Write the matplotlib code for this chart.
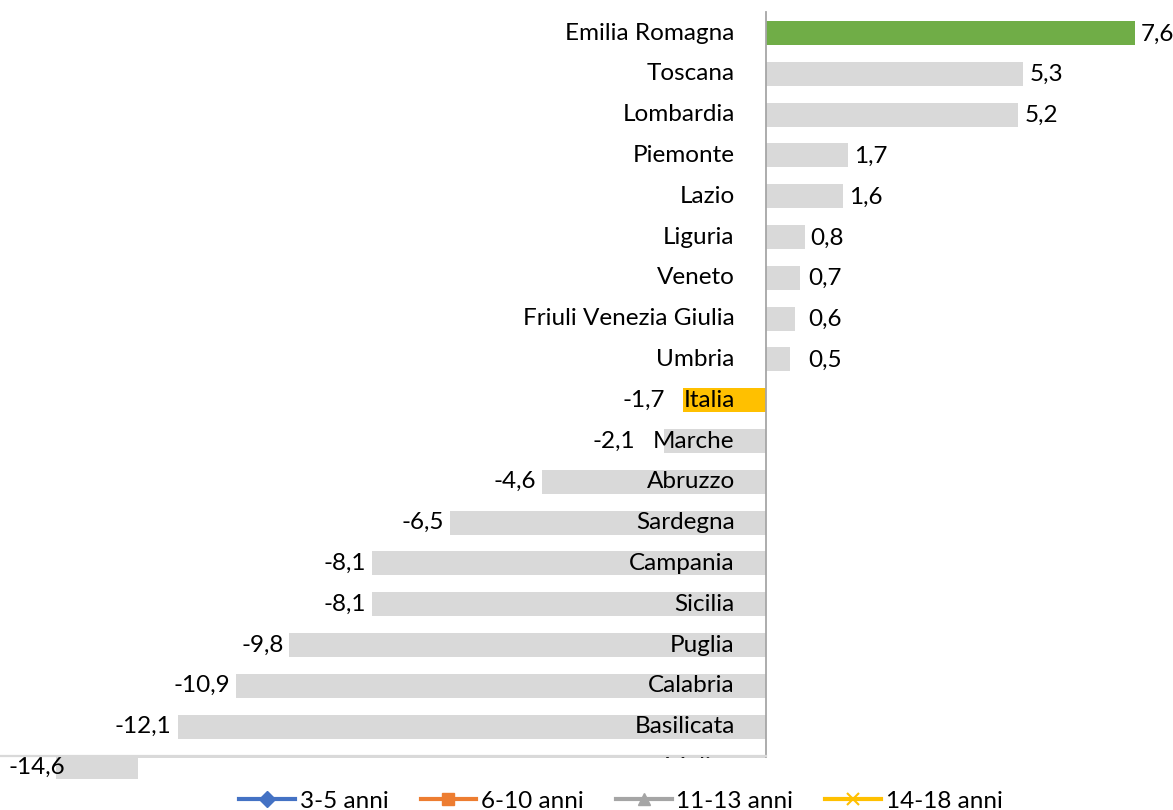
import matplotlib
matplotlib.use("Agg")
import matplotlib.pyplot as plt
from matplotlib.lines import Line2D
from matplotlib.patches import Rectangle

plt.rcParams['font.family'] = ['Lato', 'DejaVu Sans']

regioni = ['Emilia Romagna', 'Toscana', 'Lombardia', 'Piemonte', 'Lazio', 'Liguria',
           'Veneto', 'Friuli Venezia Giulia', 'Umbria', 'Italia', 'Marche', 'Abruzzo',
           'Sardegna', 'Campania', 'Sicilia', 'Puglia', 'Calabria', 'Basilicata', 'Molise']
valori = [7.6, 5.3, 5.2, 1.7, 1.6, 0.8, 0.7, 0.6, 0.5, -1.7, -2.1, -4.6,
          -6.5, -8.1, -8.1, -9.8, -10.9, -12.1, -14.6]
legenda = ['3-5 anni', '6-10 anni', '11-13 anni', '14-18 anni']

W, H = 1173, 810
fig = plt.figure(figsize=(W / 100, H / 100), dpi=100)
ax = fig.add_axes([0, 0, 1, 1])

# scala: zero a x=765.7 px, 48.6 px per unita'
x0, k = 765.7, 48.6
ax.set_xlim(-x0 / k, (W - x0) / k)
y_first, step = 33, 40.8
ax.set_ylim((H - y_first) / step, -y_first / step)

colori = []
for r in regioni:
    if r == 'Emilia Romagna':
        colori.append('#70ad47')
    elif r == 'Italia':
        colori.append('#ffc000')
    else:
        colori.append('#d9d9d9')

pos = list(range(len(regioni)))
ax.barh(pos, valori, height=0.59, color=colori, zorder=1)

fs = 17.5
renderer = fig.canvas.get_renderer()
for i, (r, v) in enumerate(zip(regioni, valori)):
    lab = ax.annotate(r, xy=(0, i), xytext=(-31, 0), textcoords='offset pixels',
                      ha='right', va='center', fontsize=fs, color='#000000', zorder=3)
    txt = ('%.1f' % v).replace('.', ',')
    bar_end = ax.transData.transform((v, i))[0]
    if v >= 0:
        # etichette piccole allineate come in Excel
        dx = max(6, x0 + 43 - bar_end)
        ax.annotate(txt, xy=(v, i), xytext=(dx, -1), textcoords='offset pixels',
                    ha='left', va='center', fontsize=fs, zorder=3)
    elif v < -14:
        ax.annotate(txt, xy=(ax.get_xlim()[0], i), xytext=(9, 0), textcoords='offset pixels',
                    ha='left', va='center', fontsize=fs, zorder=3)
    else:
        left_lab = lab.get_window_extent(renderer).x0
        dx = min(-6, left_lab - 18 - bar_end)
        ax.annotate(txt, xy=(v, i), xytext=(dx, 0), textcoords='offset pixels',
                    ha='right', va='center', fontsize=fs, zorder=3)

for s in ['top', 'right', 'bottom']:
    ax.spines[s].set_visible(False)
ax.spines['left'].set_position(('data', 0))
ax.spines['left'].set_color('#a6a6a6')
ax.spines['left'].set_linewidth(1.3)
ax.spines['left'].set_bounds((12 - y_first) / step, (757 - y_first) / step)
ax.set_xticks([])
ax.set_yticks([])
ax.patch.set_visible(False)

# bordo inferiore dell'area e riquadro bianco della legenda
fig.add_artist(Line2D([0, x0 / W], [1 - 756 / H, 1 - 756 / H], color='#d9d9d9', lw=1.6, zorder=2))
fig.add_artist(Rectangle((138 / W, 0), 1 - 138 / W - 0.05, (H - 758) / H,
                         facecolor='white', edgecolor='none', zorder=2))

handles = [
    Line2D([], [], color='#4472c4', lw=3, marker='D', markersize=8),
    Line2D([], [], color='#ed7d31', lw=3, marker='s', markersize=8),
    Line2D([], [], color='#a5a5a5', lw=3, marker='^', markersize=9),
    Line2D([], [], color='#ffc000', lw=3, marker='x', markersize=9, markeredgewidth=1.5),
]
leg = fig.legend(handles, legenda, loc='center', bbox_to_anchor=(621 / W, 1 - 801 / H),
                 ncol=4, frameon=False, fontsize=fs, handlelength=2.3,
                 handletextpad=0.2, columnspacing=1.3)
leg.set_zorder(5)

fig.savefig('out.png', dpi=100)
